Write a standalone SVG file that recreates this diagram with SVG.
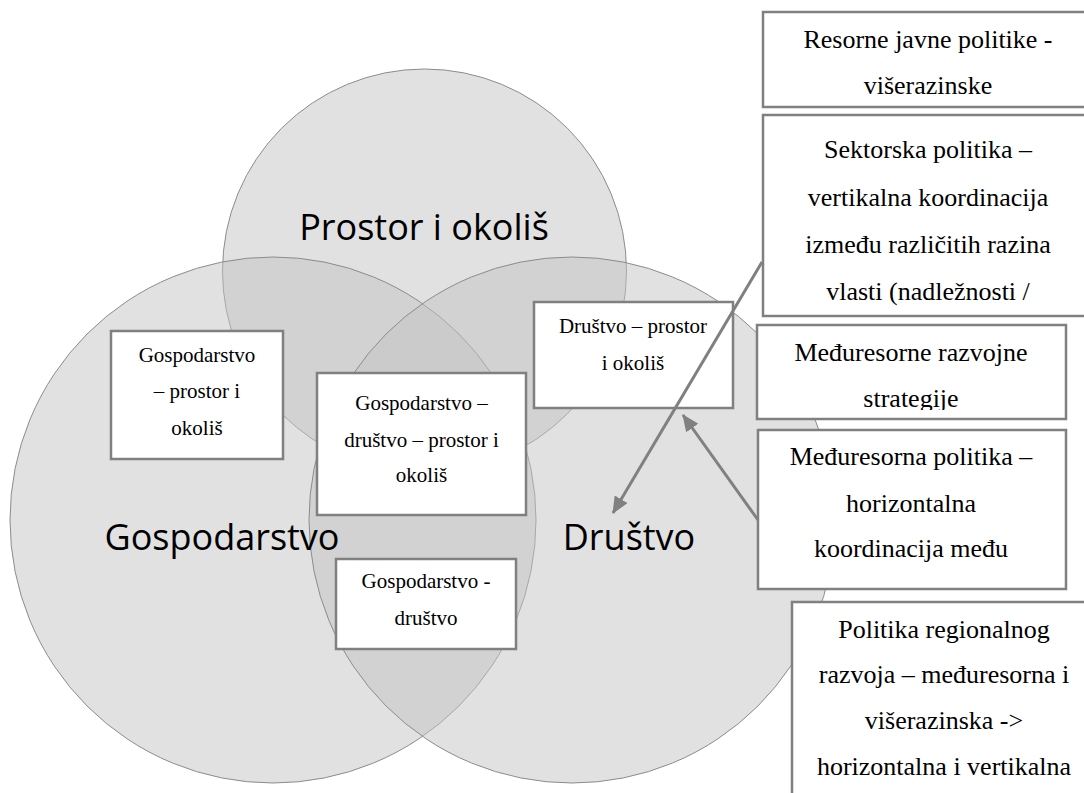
<svg xmlns="http://www.w3.org/2000/svg" width="1084" height="793" viewBox="0 0 1084 793">
<style>
.circle{fill:#c3c3c3;fill-opacity:0.5;stroke:#8c8c8c;stroke-width:1}
.big{font-family:"Open Sans","Noto Sans",sans-serif;font-size:36px;fill:#000;text-anchor:middle}
.box{fill:#fff;stroke:#808080;stroke-width:2.5}
.t{font-family:"Liberation Serif","Times New Roman",serif;font-size:26px;fill:#000;text-anchor:middle}
.s{font-family:"Liberation Serif","Times New Roman",serif;font-size:21px;fill:#000;text-anchor:middle}
.conn{stroke:#808080;stroke-width:3;fill:none}
</style>
<defs>
<marker id="ah" markerWidth="17" markerHeight="15" refX="16" refY="7.5" orient="auto" markerUnits="userSpaceOnUse">
<path d="M0,0 L17,7.5 L0,15 Z" fill="#808080"/>
</marker>
<clipPath id="clip3"><rect x="757" y="325" width="309" height="85"/></clipPath>
</defs>
<rect width="1084" height="793" fill="#fff"/>
<g id="circles">
<g id="prostor"><circle class="circle" cx="424.5" cy="271" r="202"/></g>
<g id="gospodarstvo"><circle class="circle" cx="273" cy="520" r="263"/></g>
<g id="drustvo"><circle class="circle" cx="572" cy="520" r="263"/></g>
</g>
<g id="labels">
<text class="big" x="424" y="240">Prostor i okoliš</text>
<text class="big" x="222" y="550">Gospodarstvo</text>
<text class="big" x="629" y="550">Društvo</text>
</g>
<g id="box-gp">
<rect class="box" x="111" y="331" width="172" height="128"/>
<text class="s" x="197" y="362">Gospodarstvo</text>
<text class="s" x="197" y="398">– prostor i</text>
<text class="s" x="197" y="435">okoliš</text>
</g>
<g id="box-gdp">
<rect class="box" x="317" y="373" width="209" height="142"/>
<text class="s" x="421.5" y="410">Gospodarstvo –</text>
<text class="s" x="421.5" y="447">društvo – prostor i</text>
<text class="s" x="421.5" y="482">okoliš</text>
</g>
<g id="box-gd">
<rect class="box" x="336" y="559" width="180" height="90"/>
<text class="s" x="426" y="588">Gospodarstvo -</text>
<text class="s" x="426" y="625">društvo</text>
</g>
<g id="box-dp">
<rect class="box" x="534" y="302" width="199" height="106"/>
<text class="s" x="633" y="333">Društvo – prostor</text>
<text class="s" x="633" y="370">i okoliš</text>
</g>
<g id="box-resorne">
<rect class="box" x="763" y="12" width="330" height="95"/>
<text class="t" x="928" y="48">Resorne javne politike -</text>
<text class="t" x="928" y="94">višerazinske</text>
</g>
<g id="box-sektorska">
<rect class="box" x="763" y="115" width="330" height="201"/>
<text class="t" x="928" y="158">Sektorska politika –</text>
<text class="t" x="928" y="205.5">vertikalna koordinacija</text>
<text class="t" x="928" y="253">između različitih razina</text>
<text class="t" x="928" y="300">vlasti (nadležnosti /</text>
</g>
<g id="box-strategije">
<rect class="box" x="757" y="325" width="309" height="94"/>
<g clip-path="url(#clip3)">
<text class="t" x="911" y="361">Međuresorne razvojne</text>
<text class="t" x="911" y="407">strategije</text>
</g>
</g>
<g id="box-meduresorna">
<rect class="box" x="758" y="430" width="308" height="159"/>
<text class="t" x="911" y="465">Međuresorna politika –</text>
<text class="t" x="911" y="512">horizontalna</text>
<text class="t" x="911" y="557">koordinacija među</text>
</g>
<g id="box-regionalna">
<rect class="box" x="792" y="602" width="304" height="200"/>
<text class="t" x="944" y="638">Politika regionalnog</text>
<text class="t" x="944" y="683">razvoja – međuresorna i</text>
<text class="t" x="944" y="729">višerazinska -&gt;</text>
<text class="t" x="944" y="775">horizontalna i vertikalna</text>
</g>
<g id="connectors">
<line class="conn" x1="762" y1="262" x2="613" y2="513" marker-end="url(#ah)"/>
<line class="conn" x1="758" y1="520" x2="683" y2="415" marker-end="url(#ah)"/>
</g>
</svg>
